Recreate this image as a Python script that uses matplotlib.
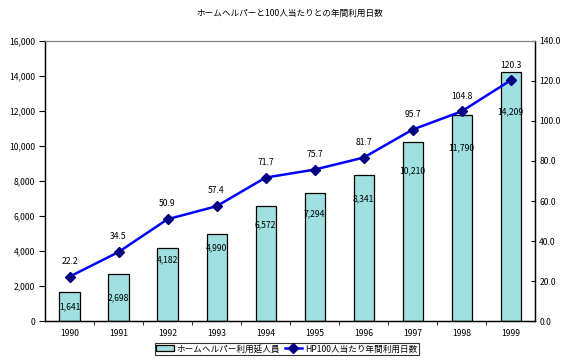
import numpy as np
import matplotlib
matplotlib.use('Agg')
import matplotlib.pyplot as plt
from matplotlib.ticker import FuncFormatter, MultipleLocator

plt.rcParams['font.family'] = ['Noto Sans CJK JP', 'DejaVu Sans']

years = ['1990', '1991', '1992', '1993', '1994', '1995', '1996', '1997', '1998', '1999']
users = [1641, 2698, 4182, 4990, 6572, 7294, 8341, 10210, 11790, 14209]
days_per_100 = [22.2, 34.5, 50.9, 57.4, 71.7, 75.7, 81.7, 95.7, 104.8, 120.3]

title = 'ホームヘルパーと100人当たりとの年間利用日数'
bar_name = 'ホームヘルパー利用延人員'
line_name = 'HP100人当たり年間利用日数'

fs = 6.2
x = np.arange(len(years))

fig = plt.figure(figsize=(5.66, 3.62), dpi=100)
ax = fig.add_axes([0.0795, 0.113, 0.866, 0.774])
ax2 = ax.twinx()

bars = ax.bar(x, users, width=0.41, color='#A0E0E0', edgecolor='black', linewidth=0.9, label=bar_name, zorder=2)
ax.set_xlim(-0.5, len(years) - 0.5)
ax.set_ylim(0, 16000)
ax.yaxis.set_major_locator(MultipleLocator(2000))
ax.yaxis.set_major_formatter(FuncFormatter(lambda v, p: f'{int(v):,}'))
ax.set_xticks(x)
ax.set_xticklabels(years)
ax.set_xticks(x[:-1] + 0.5, minor=True)
ax.tick_params(axis='x', which='major', length=0, pad=6, labelsize=fs)
ax.tick_params(axis='x', which='minor', length=3, direction='out')
ax.tick_params(axis='y', length=4, direction='out', labelsize=fs, pad=3)

# bar value labels (small bars centred, tall bars near the top)
for xi, v in zip(x, users):
    frac = 0.5 if v < 3000 else 0.84
    ax.text(xi, v * frac, f'{v:,}', ha='center', va='center', fontsize=fs, zorder=5)

ax2.plot(x, days_per_100, color='#0000FF', linewidth=1.8, marker='D', markersize=5.5,
         markerfacecolor='#000080', markeredgecolor='#000080', label=line_name, zorder=4)
ax2.set_ylim(0, 140)
ax2.yaxis.set_major_locator(MultipleLocator(20))
ax2.yaxis.set_major_formatter(FuncFormatter(lambda v, p: f'{v:.1f}'))
ax2.tick_params(axis='y', length=3, direction='in', labelsize=fs, pad=3)
for xi, v in zip(x, days_per_100):
    ax2.annotate(f'{v}', (xi, v), xytext=(0, 11), textcoords='offset points',
                 ha='center', va='center', fontsize=fs)

for a in (ax, ax2):
    a.spines['top'].set_color('#808080')
    a.spines['top'].set_linewidth(0.8)
    for s in ('left', 'right', 'bottom'):
        a.spines[s].set_color('black')
        a.spines[s].set_linewidth(0.9)

fig.text(0.512, 0.962, title, ha='center', va='center', fontsize=fs)

h1, l1 = ax.get_legend_handles_labels()
h2, l2 = ax2.get_legend_handles_labels()
leg = fig.legend(h1 + h2, l1 + l2, loc='center', bbox_to_anchor=(0.5065, 0.036), ncol=2,
                 fontsize=fs, frameon=True, fancybox=False, handlelength=2.0,
                 handletextpad=0.3, columnspacing=0.6, borderpad=0.2)
leg.get_frame().set_edgecolor('black')
leg.get_frame().set_linewidth(0.8)

fig.savefig('out.png', dpi=100)
